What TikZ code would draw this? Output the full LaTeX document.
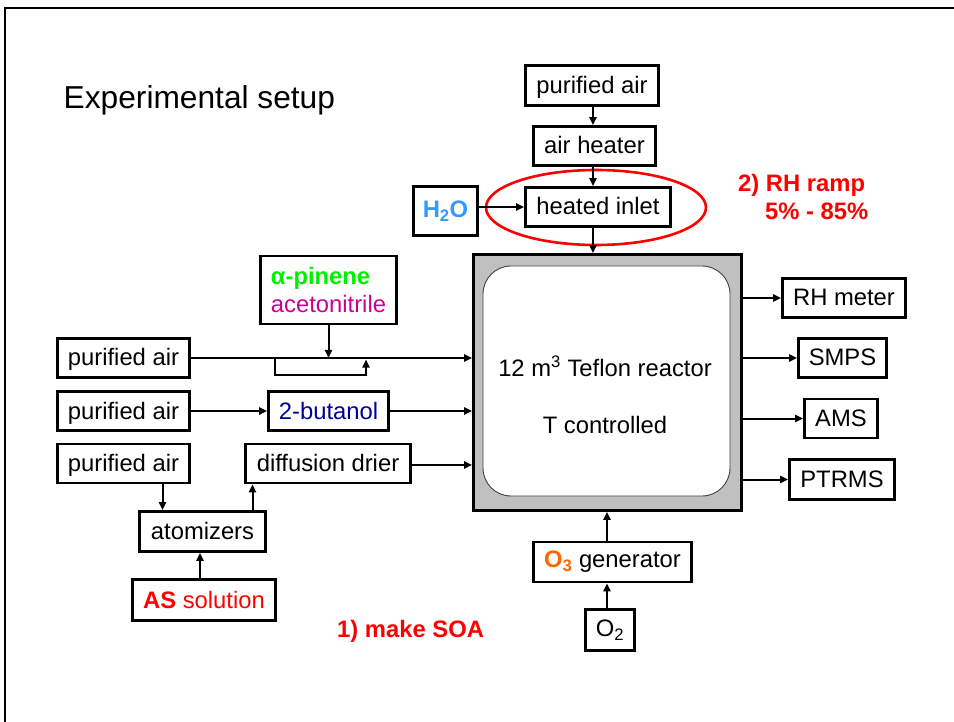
\documentclass[tikz,border=0pt]{standalone}
\usepackage{fontspec}
\setmainfont{Liberation Sans}
\usetikzlibrary{arrows.meta,shapes.geometric}
\definecolor{h2oblue}{RGB}{51,153,255}
\definecolor{apgreen}{RGB}{0,240,0}
\definecolor{acmag}{RGB}{204,0,153}
\definecolor{butblue}{RGB}{0,0,153}
\definecolor{o3orange}{RGB}{255,102,0}
\definecolor{reactgray}{RGB}{192,192,192}
\begin{document}
\begin{tikzpicture}[x=1pt,y=-1pt,
  box/.style={draw, line width=2.7pt, fill=white, inner sep=0pt, font=\fontsize{23.8}{28}\selectfont},
  boxt/.style={box, text height=18pt, text depth=2pt},
  txt/.style={inner sep=0pt, font=\fontsize{23.8}{28}\selectfont},
  redtxt/.style={inner sep=0pt, text=red, font=\fontsize{23.8}{28}\selectfont\bfseries},
  conn/.style={line width=2pt, -{Triangle[length=8pt,width=7pt]}}]
\useasboundingbox (0,0) rectangle (954,722);
% frame
\draw[line width=2.6pt] (5,740) -- (5,8) -- (970,8);
% title
\node[inner sep=0pt, anchor=base west, font=\fontsize{31.7}{36}\selectfont] (title) at (63.5,108.5) {Experimental setup};
% ellipse
\node[draw=red, line width=2.6pt, ellipse, minimum width=220pt, minimum height=75pt, inner sep=0pt] (ell) at (596,207.5) {};
% top column
\node[boxt, minimum width=133pt, minimum height=40pt] (patop) at (592,85.5) {purified air};
\node[boxt, minimum width=122pt, minimum height=39pt] (heater) at (594.5,146) {air heater};
\node[boxt, minimum width=145pt, minimum height=39pt] (inlet) at (598,207) {heated inlet};
\node[box, minimum width=64pt, minimum height=49pt] (h2o) at (445.5,211) {\bfseries\color{h2oblue}H\textsubscript{2}O};
\node[redtxt, anchor=base west] (rh1) at (738,192) {2) RH ramp};
\node[redtxt, anchor=base west] (rh2) at (765,220) {5\% - 85\%};
% reactor
\node[draw, line width=2.7pt, fill=reactgray, minimum width=268pt, minimum height=256pt, inner sep=0pt] (reactor) at (607.5,382.5) {};
\node[draw=black!75, line width=0.9pt, fill=white, rounded corners=28pt, minimum width=247pt, minimum height=230pt, inner sep=0pt] (inner) at (606.5,381) {};
\node[txt] (t1) at (605,366) {12 m\textsuperscript{3} Teflon reactor};
\node[txt] (t2) at (605,425) {T controlled};
% left side
\node[boxt, minimum width=132pt, minimum height=39pt] (pa1) at (123.5,358) {purified air};
\node[boxt, minimum width=132pt, minimum height=39pt] (pa2) at (123.5,411) {purified air};
\node[boxt, minimum width=132pt, minimum height=39pt] (pa3) at (123.5,463.5) {purified air};
\node[boxt, minimum width=120pt, minimum height=39pt] (but) at (328.5,411) {\color{butblue}2-butanol};
\node[boxt, minimum width=165pt, minimum height=39pt] (dd) at (328,463.5) {diffusion drier};
\node[box, minimum width=136pt, minimum height=68pt, align=left] (alpha) at (328.5,290) {{\bfseries\color{apgreen}α-pinene}\\{\color{acmag}acetonitrile}};
\node[boxt, minimum width=126pt, minimum height=40pt] (atom) at (202.5,531.5) {atomizers};
\node[boxt, minimum width=143pt, minimum height=41pt] (as) at (204,600) {\color{red}{\bfseries AS} solution};
% right side
\node[boxt, minimum width=123pt, minimum height=39pt] (rhm) at (844,298) {RH meter};
\node[boxt, minimum width=88pt, minimum height=39pt] (smps) at (842.5,358) {SMPS};
\node[boxt, minimum width=73pt, minimum height=39pt] (ams) at (841,418.5) {AMS};
\node[boxt, minimum width=105pt, minimum height=40pt] (ptrms) at (842,479.5) {PTRMS};
% bottom
\node[box, minimum width=158pt, minimum height=40pt] (o3) at (612.5,562) {{\bfseries\color{o3orange}O\textsubscript{3}} generator};
\node[box, minimum width=49pt, minimum height=41pt] (o2) at (610,630) {O\textsubscript{2}};
\node[redtxt, anchor=base west] (soa) at (337,637) {1) make SOA};
% connectors top
\draw[conn] ([xshift=1pt]patop.south) -- ([xshift=1pt]patop.south |- heater.north);
\draw[conn] ([xshift=-1.5pt]heater.south) -- ([xshift=-1.5pt]heater.south |- inlet.north);
\draw[conn] ([xshift=-5pt]inlet.south) -- ([xshift=-5pt]inlet.south |- reactor.north);
\draw[conn] (h2o.east |- inlet.west) -- (inlet.west);
% left connectors
\draw[conn] (pa1.east) -- (pa1.east -| reactor.west);
\draw[conn] (alpha.south) -- (alpha.south |- pa1.east);
\coordinate (b1) at (275,358);
\coordinate (b2) at (366,359.5);
\draw[conn] (b1) -- (275,375) -- (366,375) -- (b2);
\draw[conn] (pa2.east) -- (but.west);
\draw[conn] (but.east) -- (but.east -| reactor.west);
\draw[conn] ([yshift=-1.5pt]dd.east) -- ([yshift=-1.5pt]dd.east -| reactor.west);
\draw[conn] ([xshift=39pt]pa3.south) -- ([xshift=39pt]pa3.south |- atom.north);
\draw[conn] ([xshift=50pt]atom.north) -- ([xshift=50pt]atom.north |- dd.south);
\draw[conn] ([xshift=-4pt]as.north) -- ([xshift=-4pt]as.north |- atom.south);
% right connectors
\draw[conn] (rhm.west -| reactor.east) -- (rhm.west);
\draw[conn] (smps.west -| reactor.east) -- (smps.west);
\draw[conn] (ams.west -| reactor.east) -- (ams.west);
\draw[conn] (ptrms.west -| reactor.east) -- (ptrms.west);
% bottom connectors
\draw[conn] ([xshift=-5.5pt]o3.north) -- ([xshift=-5.5pt]o3.north |- reactor.south);
\draw[conn] ([xshift=-3pt]o2.north) -- ([xshift=-3pt]o2.north |- o3.south);
\end{tikzpicture}
\end{document}
